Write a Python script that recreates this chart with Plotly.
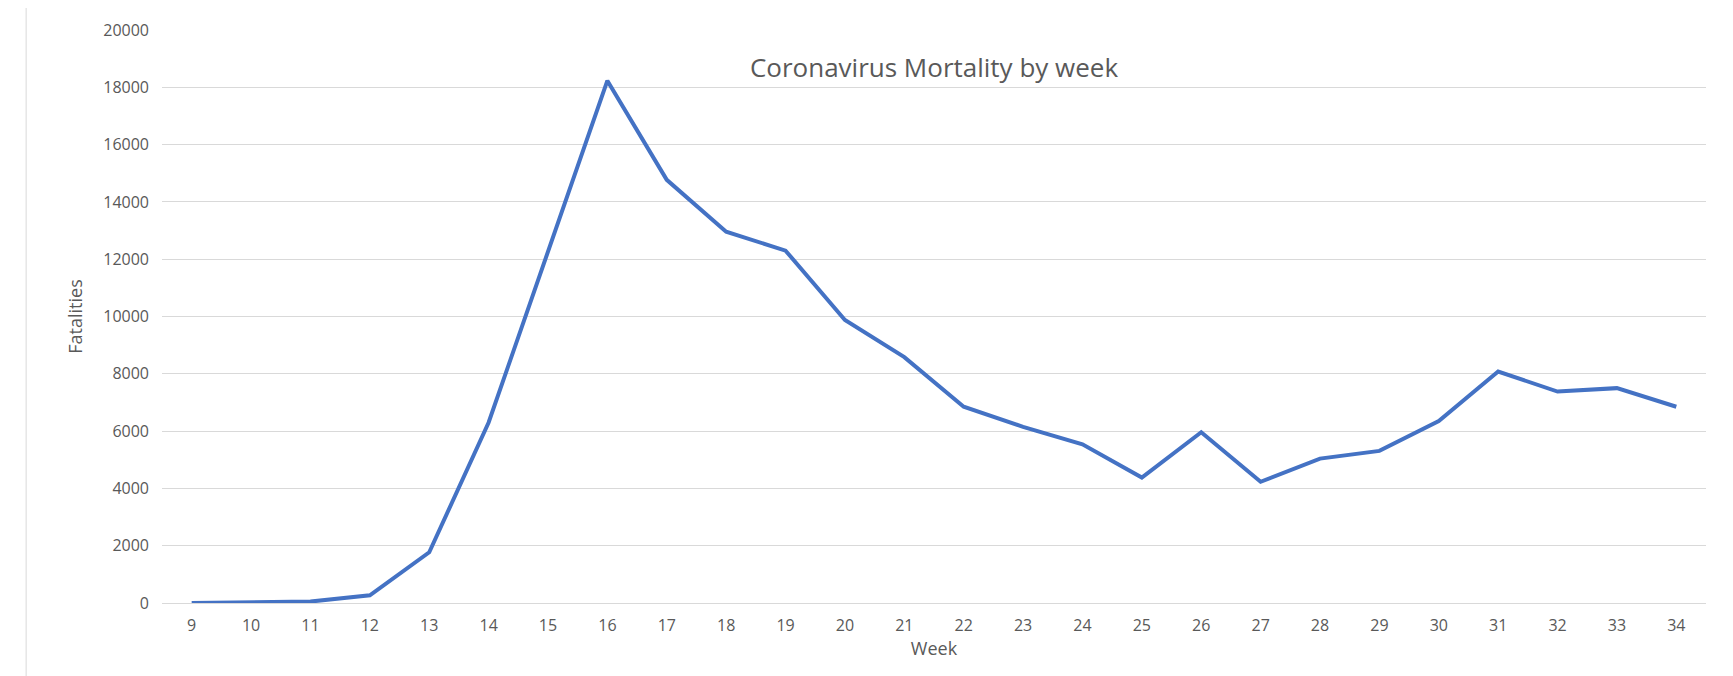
import plotly.graph_objects as go

weeks = list(range(9, 35))
fatalities = [0, 10, 50, 270, 1770, 6300, 12300, 18230, 14770, 12960, 12300, 9880, 8580,
              6850, 6150, 5540, 4380, 5960, 4230, 5040, 5310, 6350, 8080, 7380, 7500, 6850]

fig = go.Figure(go.Scatter(x=weeks, y=fatalities, mode="lines",
                           line=dict(color="#4472C4", width=4)))
font = dict(family="Open Sans, Liberation Sans, sans-serif", color="#595959", size=16)
fig.update_layout(
    width=1733, height=676, paper_bgcolor="white", plot_bgcolor="white",
    margin=dict(l=154, r=35, t=22, b=81), showlegend=False, font=font,
    title=dict(text="Coronavirus Mortality by week", x=0.5, xanchor="center",
               xref="paper", y=0.925, yref="container", font=dict(size=26, color="#595959")),
    xaxis=dict(range=[8.5, 34.5], tickmode="array", tickvals=weeks, showgrid=False,
               showline=True, linecolor="#d9d9d9", zeroline=False,
               title=dict(text="Week", font=dict(size=18), standoff=6), ticklabelstandoff=8),
    yaxis=dict(range=[0, 20000], dtick=2000, showgrid=True, gridcolor="#d9d9d9",
               zeroline=False, tickformat="d",
               title=dict(text="Fatalities", font=dict(size=18)), ticklabelstandoff=12),
)
fig.add_shape(type="rect", xref="paper", yref="paper", x0=-0.088, x1=1.02, y0=-0.14, y1=1.04,
              line=dict(color="#d9d9d9", width=1))
fig.write_html("out.html")
